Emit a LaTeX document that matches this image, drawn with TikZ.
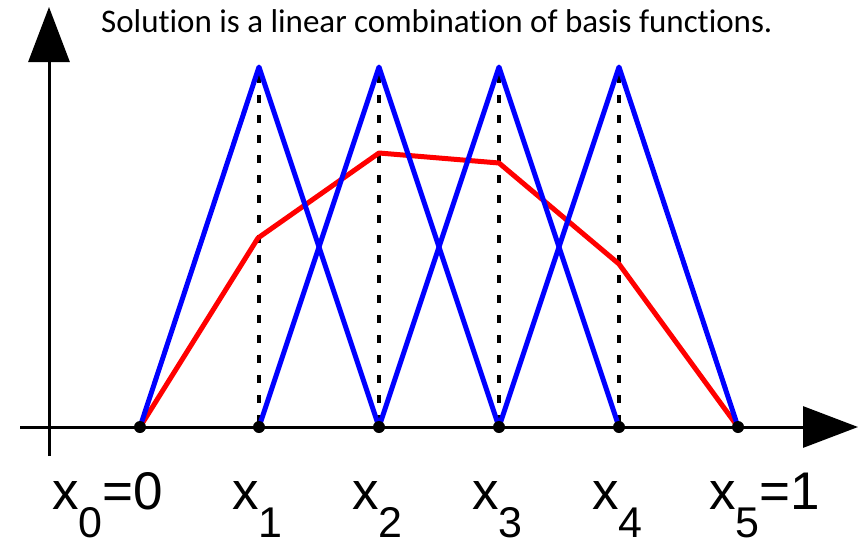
\documentclass[tikz,border=0pt]{standalone}
\usepackage{fontspec}
\newfontfamily\labfont{Liberation Sans}
\newfontfamily\ttlfont[Ligatures={NoCommon}]{Carlito}
\usetikzlibrary{arrows.meta}
\newcommand\xlab[2]{x\raisebox{-28pt}{\fontsize{43}{43}\selectfont #1}#2}
\tikzset{
  axisline/.style={line width=3pt, -{Triangle[length=55pt,width=41pt]}},
  guide/.style={line width=3.5pt, dash pattern=on 8pt off 12pt, dash phase=-8pt},
  approx/.style={red, line width=5pt, line join=round},
  basis/.style={blue, line width=5pt, line join=round, line cap=round},
  knot/.style={circle, fill=black, inner sep=0pt, minimum size=12pt},
  lab/.style={anchor=base west, inner sep=0pt, font=\labfont\fontsize{53}{53}\selectfont},
  ttl/.style={anchor=base west, inner sep=0pt, font=\ttlfont\fontsize{33}{33}\selectfont}
}
\begin{document}
\begin{tikzpicture}[x=1pt,y=-1pt]
\useasboundingbox (0,0) rectangle (861,541);
% axes
\coordinate (ybot) at (49,456);
\coordinate (ytop) at (49,7);
\coordinate (xleft) at (20,427);
\coordinate (xright) at (858,427);
\draw[axisline] (ybot) -- (ytop);
\draw[axisline] (xleft) -- (xright);
% knots and peaks
\foreach \i/\x in {0/140,1/259,2/379,3/499,4/619,5/738}{
  \coordinate (k\i) at (\x,427);
}
\foreach \i/\x in {1/259,2/379,3/499,4/619}{
  \coordinate (p\i) at (\x,67);
}
% dashed guides
\foreach \i in {1,2,3,4}{
  \draw[guide] (p\i) -- (k\i);
}
% red approximation
\coordinate (r1) at (258,238);
\coordinate (r2) at (379,153);
\coordinate (r3) at (499,163);
\coordinate (r4) at (619,264);
\draw[approx] (k0) -- (r1) -- (r2) -- (r3) -- (r4) -- (k5);
% blue hat functions
\draw[basis] (k0) -- (p1) -- (k2);
\draw[basis] (k1) -- (p2) -- (k3);
\draw[basis] (k2) -- (p3) -- (k4);
\draw[basis] (k3) -- (p4) -- (k5);
% knot dots
\foreach \i in {0,...,5}{
  \node[knot] (d\i) at (k\i) {};
}
% labels
\node[lab] (l0) at (52,509) {\xlab{0}{=0}};
\node[lab] (l1) at (232,509) {\xlab{1}{}};
\node[lab] (l2) at (352,509) {\xlab{2}{}};
\node[lab] (l3) at (472,509) {\xlab{3}{}};
\node[lab] (l4) at (592,509) {\xlab{4}{}};
\node[lab] (l5) at (709,509) {\xlab{5}{=1}};
% title
\node[ttl] (title) at (101,32) {Solution is a linear combination of basis functions.};
\end{tikzpicture}
\end{document}
